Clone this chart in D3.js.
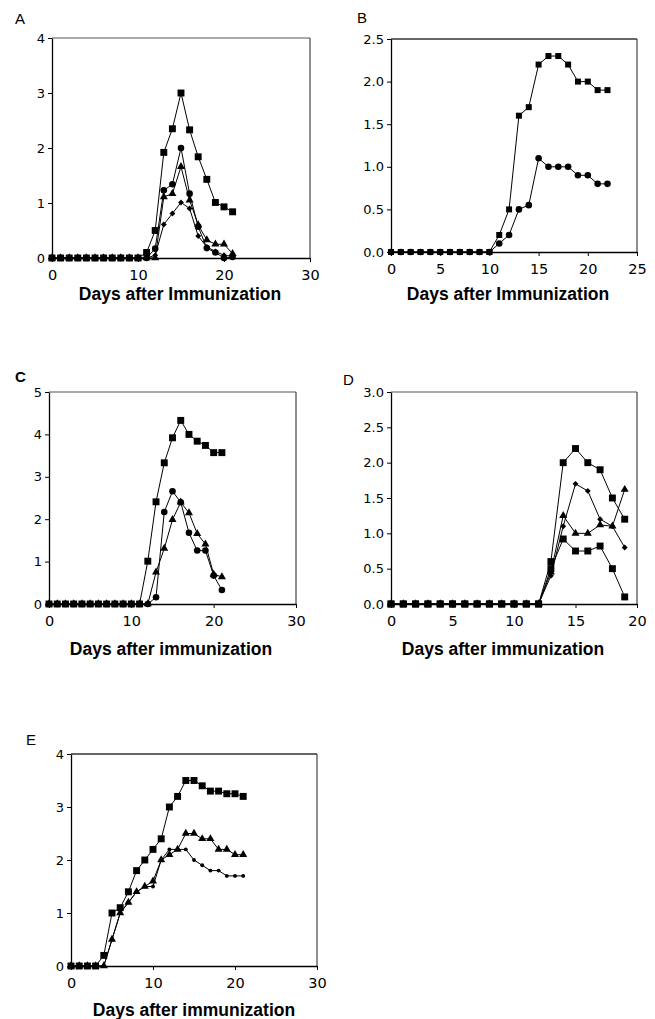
<!DOCTYPE html>
<html><head><meta charset="utf-8">
<script src="https://cdn.jsdelivr.net/npm/d3@7/dist/d3.min.js"></script>
<style>
html,body{margin:0;padding:0;background:#fff;}
svg{display:block;}
</style></head>
<body>
<svg id="fig" width="655" height="1019"></svg>
<script>
// ---------- DATA ----------
const daysA = [0,1,2,3,4,5,6,7,8,9,10,11,12,13,14,15,16,17,18,19,20,21];
const aSquare   = [0,0,0,0,0,0,0,0,0,0,0,0.1,0.5,1.92,2.35,3.0,2.33,1.84,1.43,1.01,0.93,0.84];
const aCircle   = [0,0,0,0,0,0,0,0,0,0,0,0,0.17,1.23,1.34,2.0,1.17,0.57,0.18,0.1,0,0.02];
const aTriangle = [0,0,0,0,0,0,0,0,0,0,0,0,0,1.11,1.17,1.66,1.05,0.6,0.33,0.25,0.25,0.08];
const aDiamond  = [0,0,0,0,0,0,0,0,0,0,0,0,0.05,0.61,0.81,1.01,0.9,0.4,0.2,0.12,0.05,0.03];
const xTicksA = [0,10,20,30];
const yTicksA = [0,1,2,3,4];

const daysB = [0,1,2,3,4,5,6,7,8,9,10,11,12,13,14,15,16,17,18,19,20,21,22];
const bSquare = [0,0,0,0,0,0,0,0,0,0,0,0.2,0.5,1.6,1.7,2.2,2.3,2.3,2.2,2.0,2.0,1.9,1.9];
const bCircle = [0,0,0,0,0,0,0,0,0,0,0,0.1,0.2,0.5,0.55,1.1,1.0,1.0,1.0,0.9,0.9,0.8,0.8];
const xTicksB = [0,5,10,15,20,25];
const yTicksB = [0,0.5,1.0,1.5,2.0,2.5];

const daysC = [0,1,2,3,4,5,6,7,8,9,10,11,12,13,14,15,16,17,18,19,20,21];
const cSquare   = [0,0,0,0,0,0,0,0,0,0,0,0,1.01,2.41,3.33,3.92,4.33,4.0,3.84,3.74,3.57,3.57];
const cCircle   = [0,0,0,0,0,0,0,0,0,0,0,0,0,0.16,2.17,2.66,2.4,1.68,1.26,1.26,0.67,0.33];
const cTriangle = [0,0,0,0,0,0,0,0,0,0,0,0,0,0.75,1.31,1.99,2.4,2.15,1.66,1.41,0.7,0.64];
const xTicksC = [0,10,20,30];
const yTicksC = [0,1,2,3,4,5];

const daysD = [0,1,2,3,4,5,6,7,8,9,10,11,12,13,14,15,16,17,18,19];
const dSquareHigh = [0,0,0,0,0,0,0,0,0,0,0,0,0,0.6,2.0,2.2,2.0,1.9,1.5,1.2];
const dSquareLow  = [0,0,0,0,0,0,0,0,0,0,0,0,0,0.5,0.92,0.75,0.75,0.82,0.5,0.1];
const dDiamond    = [0,0,0,0,0,0,0,0,0,0,0,0,0,0.4,1.1,1.7,1.6,1.2,1.1,0.8];
const dTriangle   = [0,0,0,0,0,0,0,0,0,0,0,0,0,0.45,1.25,1.0,1.0,1.12,1.1,1.62];
const xTicksD = [0,5,10,15,20];
const yTicksD = [0,0.5,1.0,1.5,2.0,2.5,3.0];

const daysE = [0,1,2,3,4,5,6,7,8,9,10,11,12,13,14,15,16,17,18,19,20,21];
const eSquare   = [0,0,0,0,0.2,1.0,1.1,1.4,1.8,2.0,2.2,2.4,3.0,3.2,3.5,3.5,3.4,3.3,3.3,3.25,3.25,3.2];
const eTriangle = [0,0,0,0,0,0.5,1.0,1.2,1.4,1.5,1.6,2.0,2.1,2.2,2.5,2.5,2.4,2.4,2.2,2.2,2.1,2.1];
const eCircle   = [0,0,0,0,0,0.5,1.0,1.2,1.4,1.5,1.5,2.0,2.2,2.2,2.2,2.0,1.9,1.8,1.8,1.7,1.7,1.7];
const xTicksE = [0,10,20,30];
const yTicksE = [0,1,2,3,4];

const panelLetters = ["A","B","C","D","E"];
const xLabels = ["Days after Immunization","Days after Immunization","Days after immunization","Days after immunization","Days after immunization"];

// ---------- DRAW ----------
const svg = d3.select("#fig");
const diamondType = d3.symbolDiamond2 || d3.symbolDiamond;
const shapes = {
  square:   {type: d3.symbolSquare, size: 48},
  squareS:  {type: d3.symbolSquare, size: 36},
  circle:   {type: d3.symbolCircle, size: 34},
  dot:      {type: d3.symbolCircle, size: 12},
  triangle: {type: d3.symbolTriangle, size: 28},
  diamond:  {type: diamondType, size: 22}
};

const panels = [
  {box:{l:52,t:38,r:310,b:258}, xd:[0,30], yd:[0,4], xt:xTicksA, yt:yTicksA, fmt:d3.format("d"),
   letter:{x:15,y:24,bold:false}, lab:{x:180,y:300},
   series:[[daysA,aDiamond,"diamond"],[daysA,aTriangle,"triangle"],[daysA,aCircle,"circle"],[daysA,aSquare,"square"]]},
  {box:{l:391,t:39,r:637,b:252}, xd:[0,25], yd:[0,2.5], xt:xTicksB, yt:yTicksB, fmt:d3.format(".1f"),
   letter:{x:357,y:23,bold:false}, lab:{x:508,y:300},
   series:[[daysB,bCircle,"circle"],[daysB,bSquare,"squareS"]]},
  {box:{l:49,t:392,r:296,b:604}, xd:[0,30], yd:[0,5], xt:xTicksC, yt:yTicksC, fmt:d3.format("d"),
   letter:{x:15,y:382,bold:true}, lab:{x:171,y:655},
   series:[[daysC,cTriangle,"triangle"],[daysC,cCircle,"circle"],[daysC,cSquare,"square"]]},
  {box:{l:391,t:392,r:637,b:604}, xd:[0,20], yd:[0,3], xt:xTicksD, yt:yTicksD, fmt:d3.format(".1f"),
   letter:{x:343,y:385,bold:false}, lab:{x:503,y:655},
   series:[[daysD,dTriangle,"triangle"],[daysD,dDiamond,"diamond"],[daysD,dSquareLow,"square"],[daysD,dSquareHigh,"square"]]},
  {box:{l:71,t:754,r:317,b:966}, xd:[0,30], yd:[0,4], xt:xTicksE, yt:yTicksE, fmt:d3.format("d"),
   letter:{x:26,y:745,bold:false}, lab:{x:194,y:1016},
   series:[[daysE,eCircle,"dot"],[daysE,eTriangle,"triangle"],[daysE,eSquare,"square"]]}
];

panels.forEach((p, i) => {
  const g = svg.append("g");
  const x = d3.scaleLinear().domain(p.xd).range([p.box.l, p.box.r]);
  const y = d3.scaleLinear().domain(p.yd).range([p.box.b, p.box.t]);

  // frame (top and right)
  g.append("line").attr("x1", p.box.l).attr("x2", p.box.r).attr("y1", p.box.t).attr("y2", p.box.t)
    .attr("stroke", i === 1 || i === 4 ? "#333" : "#555").attr("stroke-width", i === 1 || i === 4 ? 1.6 : 1.2);
  g.append("line").attr("x1", p.box.r).attr("x2", p.box.r).attr("y1", p.box.t).attr("y2", p.box.b)
    .attr("stroke", "#333").attr("stroke-width", 1.1);

  // axes
  const xa = g.append("g").attr("transform", `translate(0,${p.box.b})`)
    .call(d3.axisBottom(x).tickValues(p.xt).tickFormat(d3.format("d")).tickSizeInner(4).tickSizeOuter(0).tickPadding(8));
  const ya = g.append("g").attr("transform", `translate(${p.box.l},0)`)
    .call(d3.axisLeft(y).tickValues(p.yt).tickFormat(p.fmt).tickSizeInner(4).tickSizeOuter(0).tickPadding(3));
  [xa, ya].forEach(a => {
    a.select(".domain").attr("stroke", "#000").attr("stroke-width", 1.3);
    a.selectAll(".tick line").attr("stroke", "#000").attr("stroke-width", 1);
  });
  xa.selectAll("text").attr("font-family", "DejaVu Sans").attr("font-size", 14.5).attr("fill", "#000");
  ya.selectAll("text").attr("font-family", "DejaVu Sans").attr("font-size", 13).attr("fill", "#000");

  // series
  const line = d3.line().x(d => x(d[0])).y(d => y(d[1]));
  p.series.forEach(([days, vals, shp]) => {
    const pts = days.map((d, k) => [d, vals[k]]);
    g.append("path").attr("d", line(pts)).attr("fill", "none").attr("stroke", "#000").attr("stroke-width", 1);
    const sym = d3.symbol().type(shapes[shp].type).size(shapes[shp].size);
    g.selectAll(null).data(pts).join("path")
      .attr("transform", d => `translate(${x(d[0])},${y(d[1])})`)
      .attr("d", sym).attr("fill", "#000");
  });

  // labels
  g.append("text").attr("x", p.lab.x).attr("y", p.lab.y).attr("text-anchor", "middle")
    .attr("font-family", "Liberation Sans, Arial, sans-serif").attr("font-weight", "bold")
    .attr("font-size", 17.5).attr("fill", "#000").text(xLabels[i]);
  g.append("text").attr("x", p.letter.x).attr("y", p.letter.y)
    .attr("font-family", "Liberation Sans, Arial, sans-serif").attr("font-weight", p.letter.bold ? "bold" : "normal")
    .attr("font-size", 15).attr("fill", "#000").text(panelLetters[i]);
});
</script>
</body></html>
